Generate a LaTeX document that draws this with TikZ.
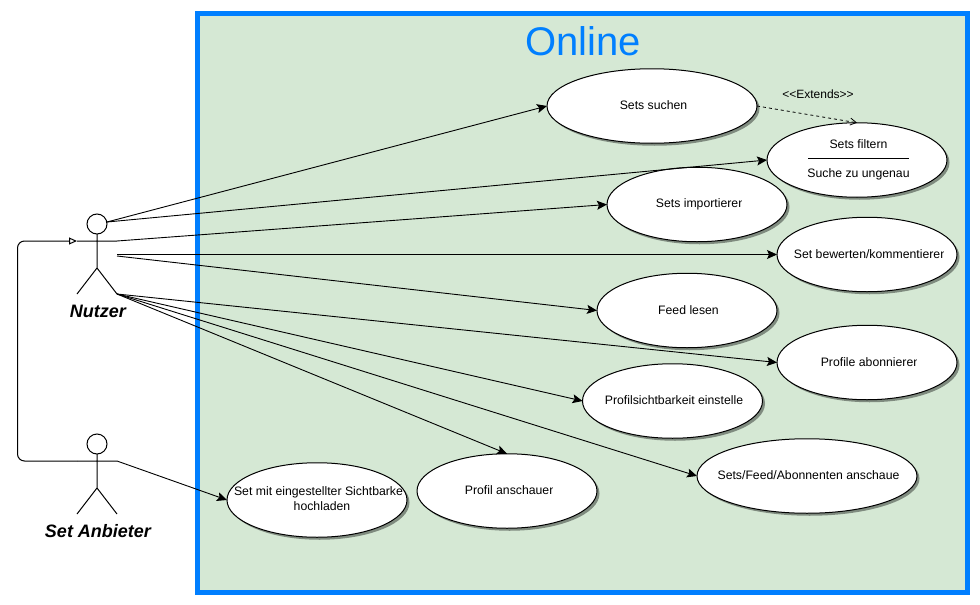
\documentclass[tikz,border=0pt]{standalone}
\usepackage{fontspec}
\usepackage{trimclip}
\setmainfont{Liberation Sans}
\usetikzlibrary{arrows.meta,shapes.geometric,shadows}
\definecolor{frameblue}{HTML}{007FFF}
\definecolor{framefill}{HTML}{D5E8D4}
\newcommand{\cutn}[1]{\clipbox{0pt 0pt 4pt 0pt}{#1}}
\newcommand{\tc}[1]{\makebox[0pt][c]{\hspace{3pt}\raisebox{1.5pt}{#1}}}
\tikzset{
  usecase/.style={ellipse,draw=black,fill=white,line width=1pt,inner sep=0pt,outer sep=0pt,
    minimum width=180pt,minimum height=74.5pt,align=center,
    font=\fontsize{12.25}{15}\selectfont,text=black,
    drop shadow={shadow xshift=2.5pt,shadow yshift=-2.5pt,fill=black,opacity=0.4}},
  txt/.style={inner sep=0pt,outer sep=0pt,font=\fontsize{12.25}{15}\selectfont,text=black},
  actorname/.style={inner sep=0pt,outer sep=0pt,font=\fontsize{18}{22}\selectfont\bfseries\itshape,text=black},
  stick/.style={draw=black,line width=1pt},
  head/.style={circle,draw=black,line width=1pt,fill=none,inner sep=0pt,outer sep=0pt,minimum size=20pt},
  assoc/.style={draw=black,line width=0.9pt,-{Stealth[length=10pt,width=9pt,inset=2pt]}},
  extend/.style={draw=black,line width=0.8pt,dash pattern=on 3pt off 3pt,-{Straight Barb[length=6pt,width=7pt]}},
  gener/.style={draw=black,line width=1pt,rounded corners=7pt,-{Triangle[open,length=8pt,width=7pt,fill=white]}},
}
\begin{document}
\begin{tikzpicture}[x=1pt,y=-1pt]
\useasboundingbox (0,0) rectangle (980,605);
\fill[white] (0,0) rectangle (980,605);
\draw[draw=frameblue,fill=framefill,line width=5pt] (197.5,13.5) rectangle (967.5,592.5);
\node[inner sep=0pt,font=\fontsize{40}{44}\selectfont,text=frameblue] (title) at (583,41) {Online};

% use cases
\node[usecase,minimum width=210pt] (suchen) at (652,106) {\tc{Sets suchen}};
\node[usecase] (filtern) at (857,160) {};
\node[usecase] (importieren) at (697,204.5) {\tc{\cutn{Sets importieren}}};
\node[usecase] (bewerten) at (867,254.5) {\tc{\cutn{Set bewerten/kommentieren}}};
\node[usecase] (feed) at (687,310.5) {\tc{Feed lesen}};
\node[usecase] (abo) at (867,362.5) {\tc{\cutn{Profile abonnieren}}};
\node[usecase] (sicht) at (672.5,401) {\tc{Profilsichtbarkeit einstelle}};
\node[usecase,minimum width=220pt] (anschauen) at (807,476) {\tc{Sets/Feed/Abonnenten anschaue}};
\node[usecase] (profil) at (507,491) {\tc{\cutn{Profil anschauen}}};
\node[usecase] (hoch) at (317,500) {\tc{\raisebox{1pt}{Set mit eingestellter Sichtbarke}}\\\tc{\hspace{7pt}\raisebox{1pt}{hochladen}}};

% Sets filtern compartments
\node[txt] (filtertop) at (858.5,144.5) {Sets filtern};
\node[txt] (filterbot) at (858.5,174) {Suche zu ungenau};
\coordinate (sepL) at (808,158.7);
\coordinate (sepR) at (909,158.7);
\draw[draw=black,line width=0.7pt] (sepL) -- (sepR);
\node[txt,font=\fontsize{12}{15}\selectfont] (extlabel) at (818,94) {<{}<Extends>{}>};

% actors
\node[head] (nhead) at (97,224) {};
\coordinate (narmL) at (77,241);
\coordinate (narmR) at (117,241);
\coordinate (nhip) at (97,268);
\coordinate (nlegL) at (77,294);
\coordinate (nlegR) at (117,294);
\coordinate (nheadR) at (107,222);
\coordinate (nside1) at (117,254.5);
\coordinate (nside2) at (117,256);
\draw[stick] (nhead.south) -- (nhip) (narmL) -- (narmR) (nlegL) -- (nhip) -- (nlegR);
\node[actorname] (nutzer) at (98,311) {Nutzer};

\node[head] (ahead) at (97,444) {};
\coordinate (aarmL) at (77,461);
\coordinate (aarmR) at (117,461);
\coordinate (ahip) at (97,488);
\coordinate (alegL) at (77,514);
\coordinate (alegR) at (117,514);
\draw[stick] (ahead.south) -- (ahip) (aarmL) -- (aarmR) (alegL) -- (ahip) -- (alegR);
\node[actorname] (anbieter) at (98,531) {Set Anbieter};

% connectors
\draw[assoc] (nheadR) -- (suchen.west);
\draw[assoc] (nheadR) -- (filtern.west);
\draw[assoc] (narmR) -- (importieren.west);
\draw[assoc] (nside1) -- (bewerten.west);
\draw[assoc] (nside2) -- (feed.west);
\draw[assoc] (nlegR) -- (abo.west);
\draw[assoc] (nlegR) -- (sicht.west);
\draw[assoc] (nlegR) -- (anschauen.west);
\draw[assoc] (nlegR) -- (profil.north);
\draw[assoc] (aarmR) -- (hoch.west);
\draw[extend] (suchen.east) -- (filtern.north);
\draw[gener] (aarmL) -| (17.5,241) -- (narmL);
\end{tikzpicture}
\end{document}
